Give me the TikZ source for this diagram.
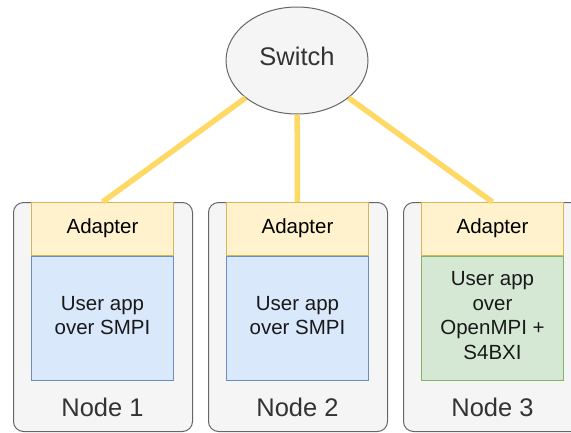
\documentclass[tikz,border=0pt]{standalone}
\usepackage{fontspec}
\setmainfont{Liberation Sans}
\usepackage{tikz}
\usetikzlibrary{positioning,shapes.geometric}
\usepackage{xcolor}
\definecolor{boxgray}{HTML}{F5F5F5}
\definecolor{boxline}{HTML}{666666}
\definecolor{textgray}{HTML}{333333}
\definecolor{adfill}{HTML}{FFF2CC}
\definecolor{adline}{HTML}{D6B656}
\definecolor{smpifill}{HTML}{DAE8FC}
\definecolor{smpiline}{HTML}{6C8EBF}
\definecolor{ompifill}{HTML}{D5E8D4}
\definecolor{ompiline}{HTML}{82B366}
\definecolor{linkyellow}{HTML}{FFD966}

\begin{document}
\begin{tikzpicture}[
  hostbox/.style={
    draw=boxline,
    fill=boxgray,
    rounded corners=10pt,
    line width=1pt,
    minimum width=179pt,
    minimum height=229pt,
    inner sep=0pt,
    anchor=north west
  },
  adapterbox/.style={
    draw=adline,
    fill=adfill,
    line width=1pt,
    minimum width=142pt,
    minimum height=53pt,
    inner sep=0pt,
    text depth=6pt,
    anchor=north west,
    font=\fontsize{20.5}{24}\selectfont
  },
  appbox/.style={
    draw=smpiline,
    fill=smpifill,
    line width=1pt,
    minimum width=142pt,
    minimum height=124pt,
    inner sep=0pt,
    text depth=6pt,
    align=center,
    font=\fontsize{20.5}{24.5}\selectfont,
    text=black!90
  },
  hostlabel/.style={
    font=\fontsize{25.5}{30}\selectfont,
    text=textgray
  },
  link/.style={
    draw=linkyellow,
    line width=5.5pt
  }
]
  \useasboundingbox (0,0) rectangle (571pt,-432pt);

  % Hosts
  \node[hostbox] (h1) at (13pt,-202pt) {};
  \node[hostbox] (h2) at (208pt,-202pt) {};
  \node[hostbox] (h3) at (403pt,-202pt) {};

  % Adapters on top of each host
  \node[adapterbox] (ad1) at (31pt,-202pt) {Adapter};
  \node[adapterbox] (ad2) at (226pt,-202pt) {Adapter};
  \node[adapterbox] (ad3) at (421pt,-202pt) {Adapter};

  % Applications
  \node[appbox, below=0pt of ad1] (app1) {User app\\over SMPI};
  \node[appbox, below=0pt of ad2] (app2) {User app\\over SMPI};
  \node[appbox, below=0pt of ad3, draw=ompiline, fill=ompifill] (app3) {User app\\over\\OpenMPI +\\S4BXI};

  % Host names
  \node[hostlabel] (n1) at (102.5pt,-407.5pt) {Node 1};
  \node[hostlabel] (n2) at (297.5pt,-407.5pt) {Node 2};
  \node[hostlabel] (n3) at (492.5pt,-407.5pt) {Node 3};

  % Switch
  \node[ellipse, draw=boxline, fill=boxgray, line width=1pt, minimum width=142pt,
    minimum height=107pt, inner sep=0pt, text depth=8pt, text=textgray,
    font=\fontsize{25.5}{30}\selectfont] (sw) at (297pt,-60.5pt) {Switch};

  % Links
  \draw[link] (sw) -- (ad1.north);
  \draw[link] (sw) -- (ad2.north);
  \draw[link] (sw) -- (ad3.north);

\end{tikzpicture}
\end{document}
